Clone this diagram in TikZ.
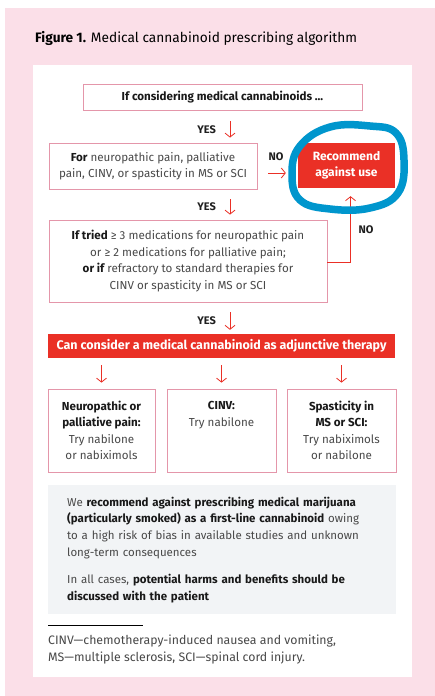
\documentclass[tikz,border=0pt]{standalone}
\usepackage{fontspec}
\setmainfont{Fira Sans}
\usetikzlibrary{arrows.meta, calc}
\definecolor{figPink}{RGB}{251,223,232}
\definecolor{figEdge}{RGB}{228,150,170}
\definecolor{figR}{RGB}{234,48,38}
\definecolor{figGrey}{RGB}{242,244,246}
\definecolor{figInk}{RGB}{72,72,72}
\definecolor{figBlue}{RGB}{0,150,205}
\newcommand{\bk}[1]{\textbf{\color{black!90}#1}}
\tikzset{
  qbox/.style={draw=figEdge, thick, fill=white, align=center, text=figInk, inner sep=0pt,
    font=\fontsize{11.6}{16.5}\selectfont},
  redbox/.style={fill=figR, text=white, align=center, inner sep=0pt,
    font=\bfseries\fontsize{12}{16}\selectfont},
  flow/.style={-{Straight Barb[length=4pt, width=10pt]}, figR, thick},
  tag/.style={font=\bfseries\fontsize{11}{12}\selectfont, text=black!88, inner sep=0pt},
}

\begin{document}
\begin{tikzpicture}[x=1pt, y=-1pt]
% page, pink frame and white panel
\fill[white] (0,0) rectangle (435,696);
\fill[figPink] (5,8) rectangle (435,696);
\fill[white] (33,65) rectangle (412,677);
% title
\node[anchor=west, inner sep=0pt, font=\fontsize{13.7}{15}\selectfont] (title) at (35,38)
  {\textbf{Figure 1.} Medical cannabinoid prescribing algorithm};
% first question
\node[qbox, minimum width=279pt, minimum height=26pt, font=\bfseries\fontsize{11.6}{16.5}\selectfont, text=black!90] (consider) at (222.5,97)
  {If considering medical cannabinoids ...};
% indication question
\node[qbox, minimum width=208pt, minimum height=46pt] (indic) at (153,166)
  {\bk{For} neuropathic pain, palliative\\ pain, CINV, or spasticity in MS or SCI};
% red stop box
\node[redbox, minimum width=97pt, minimum height=45pt] (against) at (346.5,165.5)
  {Recommend\\ against use};
% prior therapy question
\node[qbox, minimum width=278pt, minimum height=82pt] (tried) at (188,261)
  {\bk{If tried} ≥ 3 medications for neuropathic pain\\ or ≥ 2 medications for palliative pain;\\
   \bk{or if} refractory to standard therapies for\\ CINV or spasticity in MS or SCI};
% red banner
\node[redbox, minimum width=347pt, minimum height=24pt, font=\bfseries\fontsize{12.5}{16}\selectfont] (adjunct) at (221.5,346)
  {Can consider a medical cannabinoid as adjunctive therapy};
% three options
\node[qbox, minimum width=107pt, minimum height=83pt] (painbox) at (101.5,430.5)
  {\bk{Neuropathic or}\\ \bk{palliative pain:}\\ Try nabilone\\ or nabiximols};
\node[qbox, minimum width=109pt, minimum height=83pt] (cinvbox) at (221.5,430.5)
  {\bk{CINV:}\\ Try nabilone\\ ~\\ ~};
\node[qbox, minimum width=109pt, minimum height=83pt] (spasbox) at (341.5,430.5)
  {\bk{Spasticity in}\\ \bk{MS or SCI:}\\ Try nabiximols\\ or nabilone};
% grey note
\node[fill=figGrey, anchor=north west, inner xsep=19pt, inner ysep=10pt, text width=310pt, minimum height=129pt,
  align=left, text=figInk, font=\fontsize{11.5}{16.8}\selectfont] (note) at (48,485)
  {We \bk{recommend against prescribing medical marijuana}\\
   \bk{(particularly smoked) as a first-line cannabinoid} owing\\
   to a high risk of bias in available studies and unknown\\
   long-term consequences\\[10pt]
   In all cases, \bk{potential harms and benefits should be}\\
   \bk{discussed with the patient}};
% footnote
\draw[black, line width=1pt] (48,625) -- (143,625);
\node[anchor=north west, inner sep=0pt, align=left, text=figInk, font=\fontsize{12.3}{16.8}\selectfont] (foot) at (48,635)
  {CINV—chemotherapy-induced nausea and vomiting,\\ MS—multiple sclerosis, SCI—spinal cord injury.};
% YES labels
\node[tag, anchor=east] (yes1) at (216,130) {YES};
\node[tag, anchor=east] (yes2) at (216,207) {YES};
\node[tag, anchor=east] (yes3) at (216,321) {YES};
\coordinate (ax) at ([xshift=14pt]yes1.east);
% YES arrows
\draw[flow, shorten <=11pt, shorten >=5pt] (consider.south -| ax) -- (indic.north -| ax);
\draw[flow, shorten <=10pt, shorten >=5pt] (indic.south -| ax) -- (tried.north -| ax);
\draw[flow, shorten <=10pt, shorten >=4pt] (tried.south -| ax) -- (adjunct.north -| ax);
% NO branches
\node[tag] (no1) at (276,157) {NO};
\draw[flow, shorten <=11pt, shorten >=12pt] ([yshift=-7pt]indic.east) -- ([yshift=-7pt]indic.east -| against.west);
\node[tag] (no2) at (366,230) {NO};
\draw[flow, shorten >=8pt] ([yshift=-1pt]tried.east) -| ([xshift=4pt]against.south);
% arrows to options
\foreach \opt in {painbox, cinvbox, spasbox}
  \draw[flow, shorten <=7pt, shorten >=6pt] (adjunct.south -| \opt.north) -- (\opt.north);
% blue hand-drawn ring
\draw[figBlue, line width=7.5pt, line join=round] plot[smooth cycle, tension=0.7] coordinates
  {(300,146) (330,127) (370,126) (396,133) (404,160) (398,193) (370,208) (330,209) (300,200) (292,174)};
\end{tikzpicture}
\end{document}
